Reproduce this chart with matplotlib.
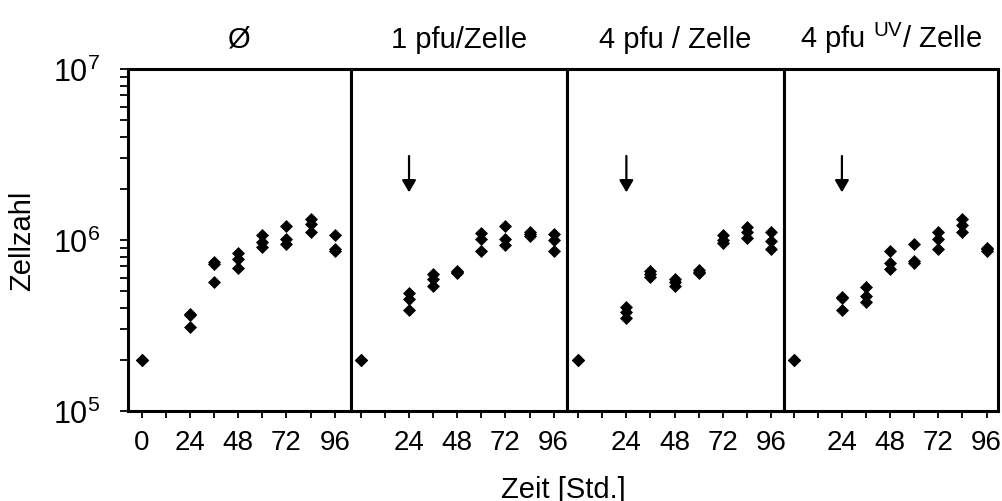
import numpy as np
import matplotlib
matplotlib.use('Agg')
import matplotlib.pyplot as plt
from matplotlib.ticker import FixedLocator, LogLocator, NullFormatter

plt.rcParams['font.family'] = ['Liberation Sans', 'DejaVu Sans']
plt.rcParams['mathtext.fontset'] = 'custom'
plt.rcParams['mathtext.rm'] = 'Liberation Sans'
plt.rcParams['mathtext.it'] = 'Liberation Sans:italic'

# time points (h) and triplicate cell counts per condition
times = [0, 24, 36, 48, 60, 72, 84, 96]

ctrl = [[2.0e5, 2.0e5, 2.0e5],
        [3.7e5, 3.65e5, 3.1e5],
        [7.4e5, 7.2e5, 5.7e5],
        [8.35e5, 7.75e5, 6.85e5],
        [1.07e6, 0.98e6, 0.91e6],
        [1.21e6, 1.01e6, 0.95e6],
        [1.32e6, 1.24e6, 1.12e6],
        [1.07e6, 0.885e6, 0.86e6]]

pfu1 = [[2.0e5, 2.0e5, 2.0e5],
        [4.88e5, 4.52e5, 3.91e5],
        [6.33e5, 5.91e5, 5.4e5],
        [6.56e5, 6.5e5, 6.42e5],
        [1.1e6, 1.01e6, 0.86e6],
        [1.21e6, 1.01e6, 0.93e6],
        [1.12e6, 1.09e6, 1.06e6],
        [1.08e6, 1.0e6, 0.86e6]]

pfu4 = [[2.0e5, 2.0e5, 2.0e5],
        [4.04e5, 3.77e5, 3.48e5],
        [6.56e5, 6.3e5, 6.05e5],
        [5.91e5, 5.65e5, 5.4e5],
        [6.7e5, 6.5e5, 6.38e5],
        [1.07e6, 1.0e6, 0.96e6],
        [1.19e6, 1.11e6, 1.03e6],
        [1.11e6, 0.99e6, 0.885e6]]

pfu4_uv = [[2.0e5, 2.0e5, 2.0e5],
           [4.62e5, 4.6e5, 3.91e5],
           [5.33e5, 4.69e5, 4.32e5],
           [8.65e5, 7.33e5, 6.76e5],
           [9.5e5, 7.5e5, 7.33e5],
           [1.12e6, 1.01e6, 0.88e6],
           [1.32e6, 1.23e6, 1.11e6],
           [0.9e6, 0.88e6, 0.86e6]]

panels = [ctrl, pfu1, pfu4, pfu4_uv]
titles = ['Ø', '1 pfu/Zelle', '4 pfu / Zelle', r'4 pfu $^{\mathrm{UV}}$/ Zelle']
show_arrow = [False, True, True, True]
infect_t = 24
arrow_from, arrow_to = 3.1e6, 1.9e6

xlims = [(-6.9, 103.9), (-5.1, 102.6), (-5.6, 102.3), (-5.0, 101.7)]
spans = [b - a for a, b in xlims]

fig = plt.figure(figsize=(10.03, 5.02), dpi=100)
axs = fig.subplots(1, 4, sharey=True,
                   gridspec_kw=dict(width_ratios=spans, wspace=0,
                                    left=128/1003, right=998/1003,
                                    top=1-70/502, bottom=1-412/502))

fs = 20
for i, ax in enumerate(axs):
    data = np.array(panels[i])
    for k in range(data.shape[1]):
        ax.plot(times, data[:, k], linestyle='none', marker='D', ms=6.6,
                mew=0.5, color='black', clip_on=False, zorder=3)
    if show_arrow[i]:
        ax.annotate('', xy=(infect_t, arrow_to), xytext=(infect_t, arrow_from),
                    arrowprops=dict(arrowstyle='-|>,head_length=0.6,head_width=0.35',
                                    lw=1.6, color='black', mutation_scale=12,
                                    shrinkA=0, shrinkB=0))
    ax.set_yscale('log')
    ax.set_ylim(1e5, 1e7)
    ax.set_xlim(*xlims[i])
    ax.set_xticks([0, 24, 48, 72, 96])
    if i == 0:
        ax.set_xticklabels(['0', '24', '48', '72', '96'])
    else:
        ax.set_xticklabels(['', '24', '48', '72', '96'])
    ax.xaxis.set_minor_locator(FixedLocator([12, 36, 60, 84]))
    ax.tick_params(axis='x', which='both', direction='out', length=5, width=1.3,
                   labelsize=fs, pad=8)
    for s in ax.spines.values():
        s.set_linewidth(2.2)
    ax.set_title(titles[i], fontsize=fs + 1, pad=16)
    if i == 0:
        ax.yaxis.set_major_locator(LogLocator(base=10, numticks=5))
        ax.yaxis.set_minor_locator(LogLocator(base=10, subs=np.arange(2, 10), numticks=10))
        ax.yaxis.set_minor_formatter(NullFormatter())
        ax.tick_params(axis='y', which='both', direction='out', length=6, width=1.3,
                       labelsize=fs + 2, pad=14)
        ax.set_ylabel('Zellzahl', fontsize=fs + 1, labelpad=12)
    else:
        ax.tick_params(axis='y', which='both', left=False, labelleft=False)

fig.text(563/1003, 4/502, 'Zeit [Std.]', ha='center', va='baseline', fontsize=fs + 1)

fig.savefig('out.png', dpi=100)
